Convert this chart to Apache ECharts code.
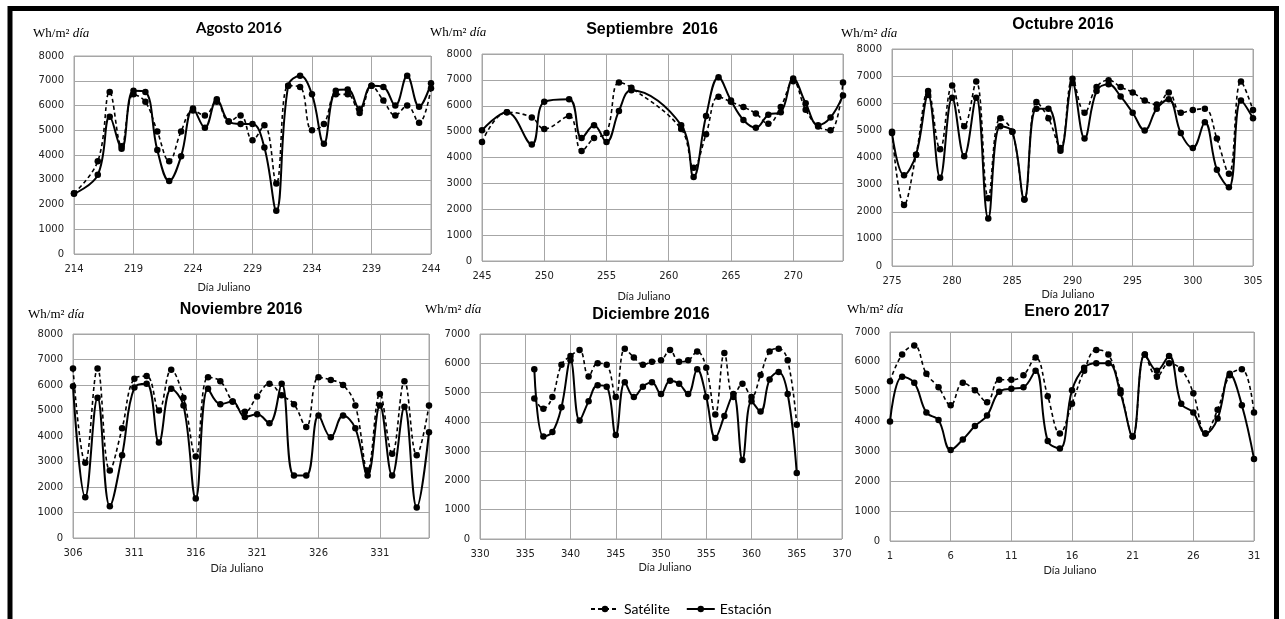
<!DOCTYPE html>
<html>
<head>
<meta charset="utf-8">
<script src="https://cdn.jsdelivr.net/npm/echarts@6/dist/echarts.min.js"></script>
<style>
  html, body { margin: 0; padding: 0; background: #fff; }
  #chart { width: 1285px; height: 619px; }
</style>
</head>
<body>
<div id="chart"></div>
<script>
// Daily irradiation (Wh/m2 day): satellite estimate vs ground station, by Julian day.
const augDays = [214, 216, 217, 218, 219, 220, 221, 222, 223, 224, 225, 226, 227, 228, 229, 230, 231, 232, 233, 234, 235, 236, 237, 238, 239, 240, 241, 242, 243, 244];
const augSat  = [2450, 3750, 6550, 4350, 6450, 6150, 4950, 3750, 4950, 5800, 5600, 6150, 5350, 5600, 4600, 5200, 2850, 6800, 6750, 5000, 5250, 6450, 6450, 5700, 6800, 6200, 5600, 6000, 5300, 6700];
const augEst  = [2430, 3200, 5550, 4250, 6600, 6550, 4200, 2950, 3950, 5880, 5100, 6250, 5350, 5250, 5250, 4300, 1750, 6800, 7200, 6450, 4450, 6600, 6650, 5850, 6800, 6750, 6000, 7200, 5950, 6900];

const sepDays = [245, 247, 249, 250, 252, 253, 254, 255, 256, 257, 261, 262, 263, 264, 265, 266, 267, 268, 269, 270, 271, 272, 273, 274];
const sepSat  = [4600, 5750, 5550, 5100, 5600, 4250, 4750, 4950, 6900, 6700, 5100, 3600, 4900, 6350, 6150, 5950, 5700, 5300, 5950, 6950, 5850, 5200, 5050, 6900];
const sepEst  = [5050, 5750, 4500, 6150, 6250, 4750, 5250, 4600, 5800, 6600, 5250, 3250, 5600, 7100, 6200, 5450, 5150, 5650, 5750, 7050, 6100, 5250, 5550, 6400];

const octDays = [275, 276, 277, 278, 279, 280, 281, 282, 283, 284, 285, 286, 287, 288, 289, 290, 291, 292, 293, 294, 295, 296, 297, 298, 299, 300, 301, 302, 303, 304, 305];
const octSat  = [4950, 2250, 4100, 6450, 4300, 6650, 5150, 6800, 2500, 5450, 4950, 2450, 6050, 5450, 4350, 6900, 5650, 6600, 6850, 6600, 6400, 6100, 5950, 6400, 5650, 5750, 5800, 4700, 3400, 6800, 5750];
const octEst  = [4900, 3350, 4100, 6300, 3250, 6200, 4050, 6200, 1750, 5150, 4950, 2450, 5800, 5800, 4250, 6750, 4700, 6450, 6700, 6250, 5650, 5000, 5800, 6150, 4900, 4350, 5300, 3550, 2900, 6100, 5450];

const novDays = [306, 307, 308, 309, 310, 311, 312, 313, 314, 315, 316, 317, 318, 319, 320, 321, 322, 323, 324, 325, 326, 327, 328, 329, 330, 331, 332, 333, 334, 335];
const novSat  = [6650, 2950, 6650, 2650, 4300, 6250, 6350, 5000, 6600, 5500, 3200, 6300, 6150, 5350, 4950, 5550, 6050, 5600, 5250, 4350, 6300, 6200, 6000, 5200, 2650, 5650, 3300, 6150, 3250, 5200];
const novEst  = [5950, 1600, 5500, 1250, 3250, 5900, 6050, 3750, 5850, 5200, 1550, 5850, 5250, 5350, 4750, 4850, 4500, 6050, 2450, 2450, 4800, 3950, 4800, 4300, 2450, 5200, 2450, 5150, 1200, 4150];

const decDays = [336, 337, 338, 339, 340, 341, 342, 343, 344, 345, 346, 347, 348, 349, 350, 351, 352, 353, 354, 355, 356, 357, 358, 359, 360, 361, 362, 363, 364, 365];
const decSat  = [4800, 4450, 4850, 5950, 6250, 6450, 5550, 6000, 5950, 4850, 6500, 6200, 5950, 6050, 6100, 6450, 6050, 6100, 6400, 5850, 4250, 6350, 4850, 5300, 4850, 5600, 6400, 6500, 6100, 3900];
const decEst  = [5800, 3500, 3650, 4500, 6100, 4050, 4700, 5250, 5200, 3550, 5350, 4850, 5200, 5350, 4950, 5400, 5300, 4950, 5800, 4850, 3450, 4200, 4950, 2700, 4700, 4350, 5450, 5700, 4950, 2250];

const janDays = [1, 2, 3, 4, 5, 6, 7, 8, 9, 10, 11, 12, 13, 14, 15, 16, 17, 18, 19, 20, 21, 22, 23, 24, 25, 26, 27, 28, 29, 30, 31];
const janSat  = [5350, 6250, 6550, 5600, 5150, 4550, 5300, 5050, 4650, 5400, 5400, 5550, 6150, 4850, 3600, 4600, 5700, 6400, 6250, 5050, 3500, 6250, 5500, 5950, 5750, 4950, 3600, 4400, 5550, 5750, 4300];
const janEst  = [4000, 5500, 5300, 4300, 4050, 3050, 3400, 3850, 4200, 5000, 5100, 5150, 5700, 3350, 3100, 5050, 5800, 5950, 5950, 4950, 3500, 6250, 5700, 6200, 4600, 4300, 3600, 4100, 5600, 4550, 2750];

const seriesNames = ['Satélite', 'Estación'];
const unitLabel = '{n|Wh/m²} {i|día}';
const xAxisName = 'Día Juliano';

// Panel layout: data references plus placement of each small chart.
const panels = [
  { title: 'Agosto 2016', titleFont: 'bold 15px Lato', days: augDays, sat: augSat, est: augEst,
    xMin: 214, xMax: 244, yMax: 8000,
    grid: { left: 74, top: 56, width: 357, height: 198 }, titleXY: [239, 28], unitXY: [33, 34], nameXY: [224, 287] },
  { title: 'Septiembre  2016', titleFont: 'bold 16px "Liberation Sans"', days: sepDays, sat: sepSat, est: sepEst,
    xMin: 245, xMax: 274, yMax: 8000,
    grid: { left: 482, top: 54, width: 361, height: 207 }, titleXY: [652, 30], unitXY: [430, 33], nameXY: [644, 296] },
  { title: 'Octubre 2016', titleFont: 'bold 16px "Liberation Sans"', days: octDays, sat: octSat, est: octEst,
    xMin: 275, xMax: 305, yMax: 8000,
    grid: { left: 892, top: 49, width: 361, height: 217 }, titleXY: [1063, 25], unitXY: [841, 34], nameXY: [1068, 294] },
  { title: 'Noviembre 2016', titleFont: 'bold 16px "Liberation Sans"', days: novDays, sat: novSat, est: novEst,
    xMin: 306, xMax: 335, yMax: 8000,
    grid: { left: 73, top: 334, width: 356, height: 204 }, titleXY: [241, 310], unitXY: [28, 315], nameXY: [237, 568] },
  { title: 'Diciembre 2016', titleFont: 'bold 16px "Liberation Sans"', days: decDays, sat: decSat, est: decEst,
    xMin: 330, xMax: 370, yMax: 7000,
    grid: { left: 480, top: 334, width: 362, height: 205 }, titleXY: [651, 315], unitXY: [425, 310], nameXY: [665, 567] },
  { title: 'Enero 2017', titleFont: 'bold 16px "Liberation Sans"', days: janDays, sat: janSat, est: janEst,
    xMin: 1, xMax: 31, yMax: 7000,
    grid: { left: 890, top: 332, width: 364, height: 209 }, titleXY: [1067, 312], unitXY: [847, 310], nameXY: [1070, 570] }
];

const gridColor = '#a6a6a6';
const tickFont = { fontFamily: 'DejaVu Sans', fontSize: 10, color: '#222' };

const grids = [], xAxes = [], yAxes = [], series = [], graphics = [];

panels.forEach((p, i) => {
  grids.push(Object.assign({ show: true, borderColor: gridColor, borderWidth: 1, containLabel: false }, p.grid));
  xAxes.push({
    type: 'value', gridIndex: i, min: p.xMin, max: p.xMax, interval: 5,
    axisLine: { show: false }, axisTick: { show: false },
    splitLine: { show: true, lineStyle: { color: gridColor, width: 1 } },
    axisLabel: Object.assign({ margin: 10, showMaxLabel: true,
      formatter: v => ((v - p.xMin) % 5 === 0 ? String(v) : '') }, tickFont)
  });
  yAxes.push({
    type: 'value', gridIndex: i, min: 0, max: p.yMax, interval: 1000,
    axisLine: { show: false }, axisTick: { show: false },
    splitLine: { show: true, lineStyle: { color: gridColor, width: 1 } },
    axisLabel: Object.assign({ margin: 10, formatter: v => String(v) }, tickFont)
  });
  const mk = (name, vals, dashed) => ({
    name, type: 'line', xAxisIndex: i, yAxisIndex: i,
    data: p.days.map((d, k) => [d, vals[k]]),
    smooth: 0.4, symbol: 'circle', symbolSize: 6.5, showSymbol: true,
    itemStyle: { color: '#000' },
    lineStyle: { color: '#000', width: dashed ? 1.6 : 2, type: dashed ? [4, 3] : 'solid' },
    z: dashed ? 2 : 3
  });
  series.push(mk(seriesNames[0], p.sat, true));
  series.push(mk(seriesNames[1], p.est, false));

  graphics.push({
    type: 'text', x: p.titleXY[0], y: p.titleXY[1],
    style: { text: p.title, font: p.titleFont, fill: '#000', align: 'center', verticalAlign: 'middle' }
  });
  graphics.push({
    type: 'text', x: p.unitXY[0], y: p.unitXY[1],
    style: {
      text: unitLabel, fill: '#000', align: 'left', verticalAlign: 'middle',
      rich: {
        n: { fontFamily: 'Liberation Serif', fontSize: 13, fill: '#000' },
        i: { fontFamily: 'Liberation Serif', fontSize: 13, fontStyle: 'italic', fill: '#000' }
      }
    }
  });
  graphics.push({
    type: 'text', x: p.nameXY[0], y: p.nameXY[1],
    style: { text: xAxisName, font: '11px Lato', fill: '#222', align: 'center', verticalAlign: 'middle' }
  });
});

// Outer frame of the figure.
graphics.push({
  type: 'polyline',
  shape: { points: [[10, 625], [10, 8.5], [1276.5, 8.5], [1276.5, 625]] },
  style: { stroke: '#000', lineWidth: 5, fill: null }
});

const chart = echarts.init(document.getElementById('chart'), null, { renderer: 'canvas' });
chart.setOption({
  animation: false,
  backgroundColor: '#fff',
  grid: grids,
  xAxis: xAxes,
  yAxis: yAxes,
  series: series,
  legend: {
    data: seriesNames, left: 585, top: 597, itemWidth: 28, itemHeight: 8, itemGap: 16,
    textStyle: { fontFamily: 'Lato', fontSize: 14, color: '#000' }
  },
  graphic: graphics
});
</script>
</body>
</html>
